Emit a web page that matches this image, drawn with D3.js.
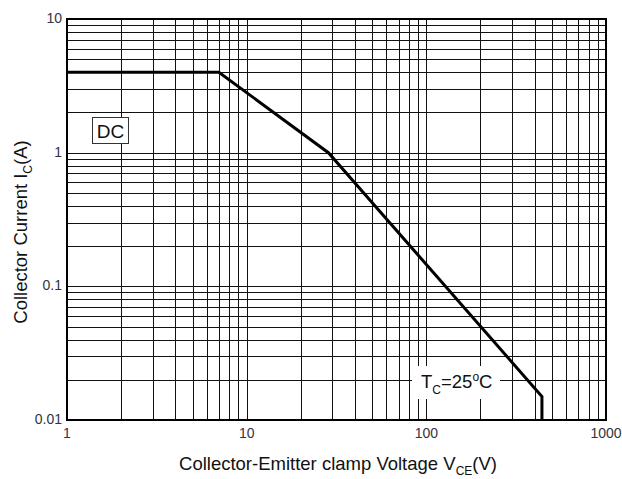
<!DOCTYPE html>
<html><head><meta charset="utf-8">
<script src="https://cdn.jsdelivr.net/npm/d3@7"></script>
<style>body{margin:0;background:#fff}svg{display:block}text{font-family:"Liberation Sans",Arial,sans-serif}</style>
</head><body><svg id="c" width="622" height="479"></svg>
<script>
const xTicks=[1,10,100,1000];
const yTicks=[0.01,0.1,1,10];
const xTickLabels=["1","10","100","1000"];
const yTickLabels=["0.01","0.1","1","10"];
const soaV=[1,7,28.5,440,440];
const soaI=[4,4,1,0.015,0.01];

const svg=d3.select("#c");
const L=67,R=606,T=19,B=420;
const x=d3.scaleLog().domain([1,1000]).range([L,R]);
const y=d3.scaleLog().domain([0.01,10]).range([B,T]);

// grid
const xg=[],yg=[];
for(let d=1;d<1000;d*=10)for(let k=1;k<10;k++)xg.push(d*k);
for(let d=0.01;d<9;d*=10)for(let k=1;k<10;k++)yg.push(d*k);
const g=svg.append("g");
g.selectAll("line.v").data(xg).enter().append("line")
 .attr("x1",d=>Math.round(x(d))+0.5).attr("x2",d=>Math.round(x(d))+0.5)
 .attr("y1",T).attr("y2",B).attr("stroke","#111").attr("stroke-width",1);
g.selectAll("line.h").data(yg).enter().append("line")
 .attr("y1",d=>Math.round(y(d))+0.5).attr("y2",d=>Math.round(y(d))+0.5)
 .attr("x1",L).attr("x2",R).attr("stroke","#111").attr("stroke-width",1);

// white label background
svg.append("rect").attr("x",412).attr("y",366).attr("width",88).attr("height",33).attr("fill","#fff");

// curve
const line=d3.line().x((d,i)=>x(soaV[i])).y((d,i)=>y(soaI[i]));
svg.append("path").datum(soaV).attr("d",line).attr("fill","none").attr("stroke","#000").attr("stroke-width",3).attr("stroke-linejoin","miter");

// frame
svg.append("rect").attr("x",L).attr("y",T).attr("width",R-L).attr("height",B-T).attr("fill","none").attr("stroke","#000").attr("stroke-width",2);

// DC box
svg.append("rect").attr("x",92.5).attr("y",117.5).attr("width",36).attr("height",26).attr("fill","#fff").attr("stroke","#333").attr("stroke-width",1);
svg.append("text").attr("x",110.5).attr("y",138).attr("text-anchor","middle").attr("font-size",19).attr("fill","#111").text("DC");

// Tc label
const tc=svg.append("text").attr("x",421).attr("y",388).attr("font-size",18.5).attr("fill","#111");
tc.append("tspan").text("T");
tc.append("tspan").attr("font-size",12).attr("dy",6).text("C");
tc.append("tspan").attr("dy",-6).text("=25");
tc.append("tspan").attr("font-size",12).attr("dy",-7).text("o");
tc.append("tspan").attr("dy",7).text("C");

// tick labels
svg.selectAll("text.xt").data(xTicks).enter().append("text")
 .attr("x",d=>x(d)).attr("y",438).attr("text-anchor","middle").attr("font-size",14).attr("fill","#333344")
 .text((d,i)=>xTickLabels[i]);
svg.selectAll("text.yt").data(yTicks).enter().append("text")
 .attr("x",62).attr("y",d=>y(d)+4).attr("text-anchor","end").attr("font-size",14).attr("fill","#333344")
 .text((d,i)=>yTickLabels[i]);

// axis titles
const xt=svg.append("text").attr("x",338).attr("y",470).attr("text-anchor","middle").attr("font-size",18.5).attr("fill","#111");
xt.append("tspan").text("Collector-Emitter clamp Voltage V");
xt.append("tspan").attr("font-size",12).attr("dy",5).text("CE");
xt.append("tspan").attr("dy",-5).text("(V)");
const yt=svg.append("text").attr("transform","translate(27,232) rotate(-90)").attr("text-anchor","middle").attr("font-size",18.5).attr("fill","#111");
yt.append("tspan").text("Collector Current I");
yt.append("tspan").attr("font-size",12).attr("dy",5).text("C");
yt.append("tspan").attr("dy",-5).text("(A)");
</script></body></html>
